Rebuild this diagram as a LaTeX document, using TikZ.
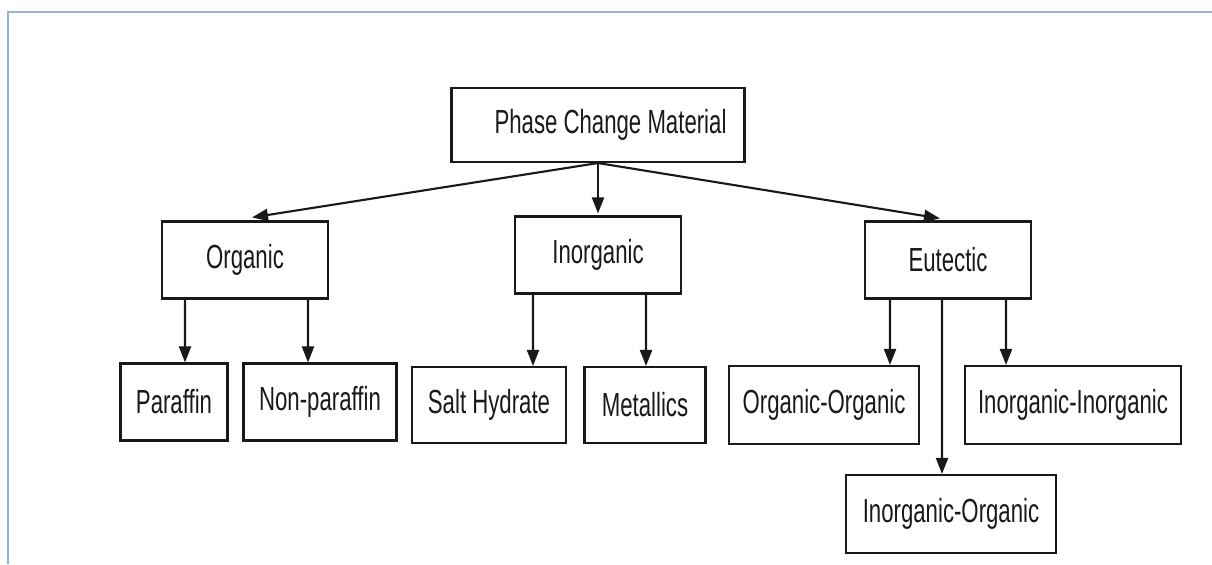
\documentclass[tikz,border=0pt]{standalone}
\usepackage{fontspec}
\setmainfont{Liberation Sans}[FakeStretch=0.665]
\usetikzlibrary{arrows.meta,positioning}
\definecolor{framecol}{RGB}{149,179,215}
\definecolor{inkcol}{RGB}{25,25,25}

\begin{document}
\begin{tikzpicture}[
    x=0.02cm, y=-0.02cm,
    box/.style={rectangle, draw=inkcol, line width=1.2pt, inner sep=0pt, minimum height=1.54cm,
        font=\fontsize{19}{21}\selectfont, text=inkcol},
    arrow/.style={-{Triangle[length=0.32cm, width=0.24cm]}, line width=1.2pt, draw=inkcol}
]
\useasboundingbox (0,0) rectangle (1212,564);

% Frame
\draw[framecol, line width=1.5pt] (8,564) -- (8,12) -- (1212,12);

% Top level
\node[box, minimum width=5.86cm, minimum height=1.48cm] (PCM) at (598,125) {\hspace*{0.5cm}Phase Change Material};

% Second level
\node[box, minimum width=3.32cm] (Org) at (245,260) {Organic};
\node[box, minimum width=3.32cm] (Inorg) at (598,255) {Inorganic};
\node[box, minimum width=3.32cm] (Eut) at (948,260) {Eutectic};

% Third level
\node[box, minimum width=2.14cm] (Par) at (174,402) {Paraffin};
\node[box, minimum width=3.06cm] (NonPar) at (320,402) {Non-paraffin};
\node[box, minimum width=3.08cm, minimum height=1.52cm] (Salt) at (489,405) {Salt Hydrate};
\node[box, minimum width=2.42cm, minimum height=1.52cm] (Metal) at (645,405) {Metallics};
\node[box, minimum width=3.8cm, minimum height=1.56cm] (OrgOrg) at (824,405) {Organic-Organic};
\node[box, minimum width=4.32cm, minimum height=1.56cm] (InInorg) at (1073,405) {Inorganic-Inorganic};
\node[box, minimum width=4.2cm, minimum height=1.56cm] (InOrg) at (951,514) {Inorganic-Organic};

% Connectors
\draw[arrow] (PCM.south) -- ([xshift=0.14cm, yshift=0.06cm]Org.north);
\draw[arrow] (PCM.south) -- ([yshift=0.04cm]Inorg.north);
\draw[arrow] (PCM.south) -- ([xshift=-0.16cm, yshift=0.04cm]Eut.north);

\draw[arrow] ([xshift=-1.2cm]Org.south) -- ([xshift=0.22cm]Par.north);
\draw[arrow] ([xshift=1.26cm]Org.south) -- ([xshift=-0.24cm]NonPar.north);

\draw[arrow] ([xshift=-1.3cm]Inorg.south) -- ([xshift=0.88cm]Salt.north);
\draw[arrow] ([xshift=0.96cm]Inorg.south) -- ([xshift=0.02cm]Metal.north);

\draw[arrow] ([xshift=-1.16cm]Eut.south) -- ([xshift=1.32cm]OrgOrg.north);
\draw[arrow] ([xshift=-0.12cm]Eut.south) -- ([xshift=-0.18cm]InOrg.north);
\draw[arrow] ([xshift=1.16cm]Eut.south) -- ([xshift=-1.34cm]InInorg.north);

\end{tikzpicture}
\end{document}
